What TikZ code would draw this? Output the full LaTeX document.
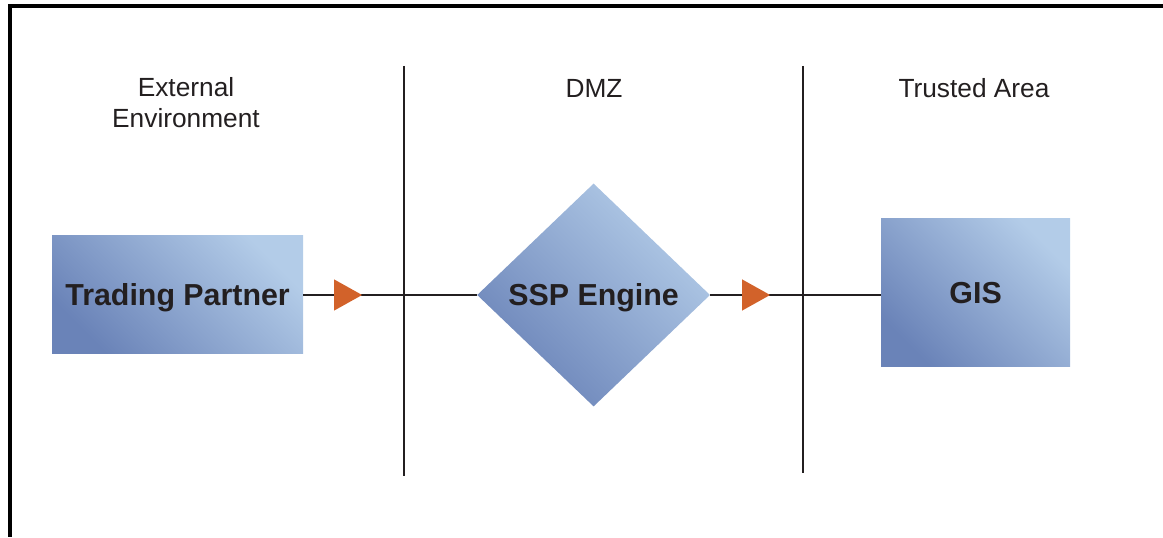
\documentclass[tikz,border=0pt]{standalone}
\usepackage{fontspec}
\setmainfont{Liberation Sans}
\usepackage{tikz}
\usetikzlibrary{arrows.meta,positioning,shapes.geometric}

\definecolor{zoneDark}{HTML}{6A83B8}
\definecolor{zoneLight}{HTML}{B3CCE8}
\definecolor{flowOrange}{HTML}{D2622A}
\definecolor{inkGray}{HTML}{231F20}

\begin{document}
\begin{tikzpicture}[
      zoneLabel/.style={font=\fontsize{18.7}{22}\selectfont, text=inkGray, align=center},
      sysBox/.style={
        rectangle, inner sep=0pt, font=\fontsize{21.6}{24}\selectfont\bfseries,
        text=inkGray, text depth=0pt, left color=zoneDark, right color=zoneLight, shading angle=135
      },
      sysDiamond/.style={
        diamond, inner sep=0pt, font=\fontsize{21.6}{24}\selectfont\bfseries,
        text=inkGray, text depth=0pt, left color=zoneDark, right color=zoneLight, shading angle=135,
        minimum width=5.825cm, minimum height=5.575cm
      },
      flowLine/.style={-, draw=inkGray, line width=1.4pt},
      flowMark/.style={
        isosceles triangle, isosceles triangle stretches, fill=flowOrange,
        inner sep=0pt, minimum width=0.78cm, minimum height=0.7cm, sloped
      },
      zoneLine/.style={draw=inkGray, line width=1.3pt}
    ]

      \useasboundingbox (0,0) rectangle (29.075,13.425);

      % ---------- Frame ----------
      \draw[line width=2.2pt, black] (29.075,13.275) -| (0.25,0);

      % ---------- Zones ----------
      \node[zoneLabel] (extLabel) at (4.65, 10.85)    {External\\Environment};
      \node[zoneLabel] (dmzLabel) at (14.85, 11.225)  {DMZ};
      \node[zoneLabel] (trustLabel) at (24.35, 11.225) {Trusted Area};

      \draw[zoneLine] (10.1, 11.775) -- (10.1, 1.525);
      \draw[zoneLine] (20.075, 11.775) -- (20.075, 1.6);

      % ---------- Systems ----------
      \node[sysBox, minimum width=6.275cm, minimum height=2.95cm] (tp) at (4.44, 6.05) {Trading Partner};
      \node[sysDiamond] (ssp) at (14.84, 6.05) {SSP Engine};
      \node[sysBox, minimum width=4.725cm, minimum height=3.7cm] (gis) at (24.39, 6.1) {GIS};

      % ---------- Flows ----------
      \draw[flowLine] (tp.east) -- node[flowMark, pos=0.23] (mark1) {} (ssp.west);
      \draw[flowLine] (ssp.east) -- node[flowMark, pos=0.24] (mark2) {} (ssp.east -| gis.west);

    \end{tikzpicture}
\end{document}
